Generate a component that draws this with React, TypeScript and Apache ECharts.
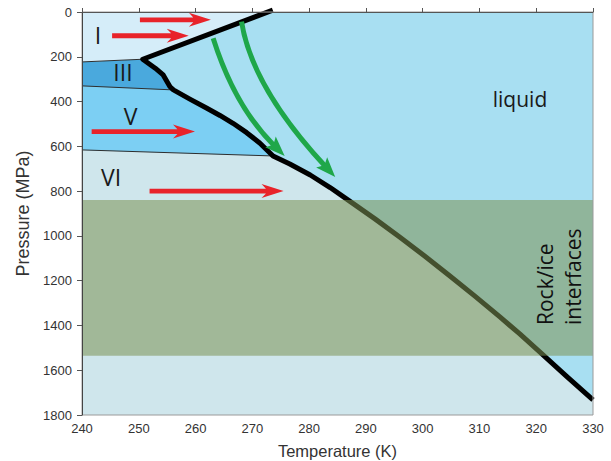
import React, { useEffect, useRef } from "react";
import * as echarts from "echarts";

// ---- axis ranges / ticks ----
const tempRange = [240, 330];
const tempStep = 10;
const pressRange = [0, 1800];
const pressStep = 200;

// ---- phase boundaries (T in K, P in MPa) ----
const meltIh = [[273.6, -8], [250.7, 211]];
const meltIII = [[250.7, 211], [252.9, 251], [254.3, 281], [255.5, 334], [256.1, 348]];
const meltV = [[256.1, 348], [259.0, 389], [262.0, 430], [264.3, 462], [266.6, 497], [269.0, 539], [271.3, 585], [273.65, 643]];
const meltVI = [
  [273.65, 643], [276.6, 679], [280.2, 728], [283.7, 784], [287.2, 846], [291.6, 924], [296.0, 1006],
  [300.4, 1091], [304.8, 1179], [309.2, 1269], [313.6, 1362], [317.1, 1438], [321.0, 1527], [325.4, 1629], [330, 1732],
];
const boundaryI_III = [[240, 223], [250.7, 211]];
const boundaryIII_V = [[240, 330], [256.1, 348]];
const boundaryV_VI = [[240, 616], [273.65, 643]];
const iceITopCorner = [272.8, 0];

// rock/ice interface band (MPa)
const bandPressure = [840, 1535];

// red arrows (tail, tip)
const redTail = [[250.2, 35], [245.3, 106], [241.7, 534], [251.9, 800]];
const redTip = [[262.7, 35], [258.8, 106], [259.9, 534], [275.5, 800]];

// green arrows: start, bend (control) and tip
const greenStart = [[263.1, 117], [268.1, 43]];
const greenBend = [[266.9, 422], [269.9, 334]];
const greenTip = [[275.7, 643], [284.6, 737]];

// colours
const colLiquid = "#a8dff2";
const colI = "#d5edf9";
const colIII = "#4aa9dd";
const colV = "#7ccff3";
const colVI = "#cfe6ec";
const colBand = "rgba(123,145,83,0.55)";
const colRed = "#e8232a";
const colGreen = "#1fa74a";

const regionPolys = [
  { pts: [[tempRange[0], pressRange[0]], [tempRange[1], pressRange[0]], [tempRange[1], pressRange[1]], [tempRange[0], pressRange[1]]], color: colLiquid },
  { pts: [boundaryV_VI[0], ...meltVI, [tempRange[1], pressRange[1]], [tempRange[0], pressRange[1]]], color: colVI },
  { pts: [boundaryIII_V[0], ...meltV, boundaryV_VI[0]], color: colV },
  { pts: [boundaryI_III[0], ...meltIII, boundaryIII_V[0]], color: colIII },
  { pts: [[tempRange[0], 0], iceITopCorner, meltIh[1], boundaryI_III[0]], color: colI },
];

const meltCurve = [...meltIh, ...meltIII.slice(1), ...meltV.slice(1), ...meltVI.slice(1)];

function arrowPoly(a: number[], b: number[], L: number, hw: number, sw: number) {
  const dx = b[0] - a[0], dy = b[1] - a[1];
  const len = Math.hypot(dx, dy) || 1;
  const ux = dx / len, uy = dy / len;
  const nx = -uy, ny = ux;
  const neck = [b[0] - ux * L * 0.8, b[1] - uy * L * 0.8];
  const barb = [b[0] - ux * L, b[1] - uy * L];
  return [
    [a[0] + nx * sw, a[1] + ny * sw],
    [neck[0] + nx * sw, neck[1] + ny * sw],
    [barb[0] + nx * hw, barb[1] + ny * hw],
    b,
    [barb[0] - nx * hw, barb[1] - ny * hw],
    [neck[0] - nx * sw, neck[1] - ny * sw],
    [a[0] - nx * sw, a[1] - ny * sw],
  ];
}

const FONT = "'Open Sans', 'Noto Sans', sans-serif";
const AXFONT = "'Liberation Sans', Arial, sans-serif";

export default function App() {
  const ref = useRef<HTMLDivElement>(null);
  useEffect(() => {
    const chart = echarts.init(ref.current!, null, { renderer: "svg" });
    const option: any = {
      animation: false,
      grid: {
        left: 82, top: 12, right: 18, bottom: 46, containLabel: false, outerBoundsMode: "none",
        show: true, borderColor: "#9a9a9a", borderWidth: 1, backgroundColor: "transparent", z: 10,
      },
      xAxis: {
        type: "value", min: tempRange[0], max: tempRange[1], interval: tempStep, z: 11,
        name: "Temperature (K)", nameLocation: "middle", nameGap: 27,
        nameTextStyle: { fontSize: 16.5, color: "#333", fontFamily: AXFONT },
        axisLine: { show: true, lineStyle: { color: "#555", width: 1 } },
        axisTick: { show: true, inside: true, length: 4, lineStyle: { color: "#555" } },
        axisLabel: { fontSize: 13, color: "#333", margin: 7, fontFamily: AXFONT, formatter: (v: number) => String(v) },
        splitLine: { show: false },
      },
      yAxis: {
        type: "value", min: pressRange[0], max: pressRange[1], interval: pressStep, inverse: true, z: 11,
        name: "Pressure (MPa)", nameLocation: "middle", nameGap: 50, nameRotate: 90,
        nameTextStyle: { fontSize: 18, color: "#333", fontFamily: AXFONT },
        axisLine: { show: true, lineStyle: { color: "#444", width: 1 } },
        axisTick: { show: true, inside: false, length: 5, lineStyle: { color: "#555" } },
        axisLabel: { fontSize: 13, color: "#333", margin: 10, fontFamily: AXFONT, formatter: (v: number) => String(v) },
        splitLine: { show: false },
      },
      series: [
        {
          type: "custom", coordinateSystem: "cartesian2d", z: 1, silent: true,
          data: regionPolys.map((_, i) => [i]),
          renderItem: (params: any, api: any) => {
            const r = regionPolys[params.dataIndex];
            return { type: "polygon", shape: { points: r.pts.map((p) => api.coord(p)) }, style: { fill: r.color } };
          },
        },
        ...[boundaryI_III, boundaryIII_V, boundaryV_VI].map((b) => ({
          type: "line", z: 2, silent: true, data: b, showSymbol: false, symbol: "none",
          lineStyle: { color: "#2e2e2e", width: 1 },
        })),
        {
          type: "line", z: 3, silent: true, data: meltCurve, showSymbol: false, symbol: "none", clip: false,
          lineStyle: { color: "#000", width: 5, join: "round" },
        },
        {
          type: "custom", coordinateSystem: "cartesian2d", z: 4, silent: true,
          data: redTail.map((_, i) => [i]),
          renderItem: (params: any, api: any) => {
            const i = params.dataIndex;
            const a = api.coord(redTail[i]);
            const b = api.coord(redTip[i]);
            return { type: "polygon", shape: { points: arrowPoly(a, b, 22, 7, 2.4) }, style: { fill: colRed } };
          },
        },
        {
          type: "custom", coordinateSystem: "cartesian2d", z: 4, silent: true,
          data: greenStart.map((_, i) => [i]),
          renderItem: (params: any, api: any) => {
            const i = params.dataIndex;
            const s = api.coord(greenStart[i]);
            const c = api.coord(greenBend[i]);
            const t = api.coord(greenTip[i]);
            const dx = t[0] - c[0], dy = t[1] - c[1];
            const len = Math.hypot(dx, dy);
            const ux = dx / len, uy = dy / len;
            const L = 20;
            const e = [t[0] - ux * L * 0.75, t[1] - uy * L * 0.75];
            const head = arrowPoly([t[0] - ux * L, t[1] - uy * L], t, L, 7.5, 0.1);
            return {
              type: "group",
              children: [
                { type: "bezierCurve", shape: { x1: s[0], y1: s[1], cpx1: c[0], cpy1: c[1], x2: e[0], y2: e[1] }, style: { stroke: colGreen, lineWidth: 5, fill: null } },
                { type: "polygon", shape: { points: head }, style: { fill: colGreen } },
              ],
            };
          },
        },
        {
          type: "custom", coordinateSystem: "cartesian2d", z: 5, silent: true,
          data: [[0]],
          renderItem: (params: any, api: any) => {
            const p0 = api.coord([tempRange[0], bandPressure[0]]);
            const p1 = api.coord([tempRange[1], bandPressure[1]]);
            return { type: "rect", shape: { x: p0[0], y: p0[1], width: p1[0] - p0[0], height: p1[1] - p0[1] }, style: { fill: colBand } };
          },
        },
      ],
      graphic: [
        { type: "text", x: 98, y: 35, z: 100, style: { text: "I", font: `23px ${FONT}`, fill: "#1a1a1a", align: "center", verticalAlign: "middle" } },
        { type: "text", x: 123, y: 72, z: 100, style: { text: "III", font: `23px ${FONT}`, fill: "#1a1a1a", align: "center", verticalAlign: "middle" } },
        { type: "text", x: 130.5, y: 115.5, z: 100, style: { text: "V", font: `23px ${FONT}`, fill: "#1a1a1a", align: "center", verticalAlign: "middle" } },
        { type: "text", x: 111, y: 177, z: 100, style: { text: "VI", font: `23px ${FONT}`, fill: "#1a1a1a", align: "center", verticalAlign: "middle" } },
        { type: "text", x: 520, y: 99, z: 100, style: { text: "liquid", font: `21px ${FONT}`, fill: "#1a1a1a", align: "center", verticalAlign: "middle" } },
        { type: "text", x: 544.5, y: 325, rotation: Math.PI / 2, z: 100, style: { text: "Rock/ice", font: `21px ${FONT}`, fill: "#111", align: "left", verticalAlign: "middle" } },
        { type: "text", x: 573, y: 325, rotation: Math.PI / 2, z: 100, style: { text: "interfaces", font: `21px ${FONT}`, fill: "#111", align: "left", verticalAlign: "middle" } },
      ],
    };
    chart.setOption(option);
    return () => chart.dispose();
  }, []);
  return <div ref={ref} style={{ position: "absolute", left: 0, top: 0, width: 611, height: 461 }} />;
}
